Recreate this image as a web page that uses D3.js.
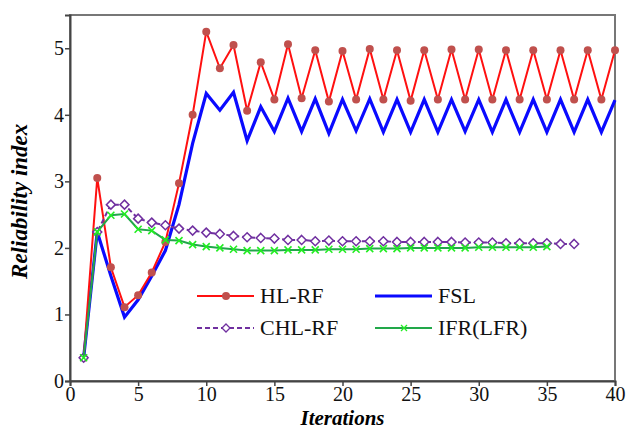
<!DOCTYPE html>
<html><head><meta charset="utf-8">
<script src="https://cdn.jsdelivr.net/npm/d3@7"></script>
<style>body{margin:0;background:#fff}svg{display:block}</style>
</head><body><svg id="c" width="627" height="432" font-family="Liberation Serif"><text id="xt" x="342" y="425" text-anchor="middle" font-family="Liberation Serif" font-size="21" font-weight="bold" font-style="italic">Iterations</text><text id="yt" transform="translate(27,201) rotate(-90)" text-anchor="middle" font-family="Liberation Serif" font-size="23" font-weight="bold" font-style="italic">Reliability index</text></svg>
<script>
const hlrf = [0.35,3.05,1.71,1.11,1.29,1.63,2.09,2.97,4.00,5.25,4.70,5.05,4.06,4.79,4.23,5.06,4.25,4.97,4.20,4.96,4.23,4.99,4.23,4.97,4.21,4.97,4.23,4.98,4.23,4.98,4.23,4.97,4.23,4.97,4.23,4.97,4.23,4.97,4.23,4.97];
const fsl = [0.35,2.24,1.58,0.96,1.22,1.58,1.96,2.65,3.57,4.32,4.07,4.34,3.61,4.12,3.75,4.25,3.75,4.24,3.72,4.23,3.76,4.24,3.74,4.23,3.74,4.23,3.74,4.23,3.75,4.23,3.74,4.23,3.74,4.23,3.74,4.23,3.74,4.23,3.74,4.22];
const chlrf = [0.35,2.24,2.65,2.65,2.44,2.38,2.34,2.29,2.26,2.23,2.21,2.18,2.16,2.15,2.14,2.12,2.12,2.10,2.11,2.10,2.10,2.10,2.10,2.09,2.09,2.09,2.09,2.09,2.08,2.08,2.08,2.07,2.07,2.07,2.07,2.06,2.06];
const ifr = [0.35,2.24,2.49,2.51,2.28,2.26,2.12,2.11,2.05,2.02,2.00,1.98,1.96,1.96,1.96,1.97,1.97,1.97,1.98,1.98,1.98,1.99,1.99,1.99,2.00,2.00,2.00,2.00,2.00,2.01,2.01,2.01,2.01,2.01,2.02];
const xTicks = [0,5,10,15,20,25,30,35,40];
const yTicks = [0,1,2,3,4,5];
const seriesNames = ["HL-RF","FSL","CHL-RF","IFR(LFR)"];

const FONT = "Liberation Serif";
const svg = d3.select("#c");
const m = {l:70, r:12, t:15, b:51};
const W = 627, H = 432;
const x = d3.scaleLinear().domain([0,40]).range([m.l, W-m.r]);
const y = d3.scaleLinear().domain([0,5.5]).range([H-m.b, m.t]);

// frame
svg.insert("rect",":first-child").attr("x",m.l).attr("y",m.t).attr("width",W-m.l-m.r).attr("height",H-m.t-m.b)
  .attr("fill","none").attr("stroke","#777").attr("stroke-width",2);

const xa = svg.append("g").attr("transform",`translate(0,${H-m.b})`)
  .call(d3.axisBottom(x).tickValues(xTicks).tickFormat(d3.format("d")).tickSize(5).tickPadding(1));
const ya = svg.append("g").attr("transform",`translate(${m.l},0)`)
  .call(d3.axisLeft(y).tickValues(yTicks).tickFormat(d3.format("d")).tickSize(5).tickPadding(1));
[xa,ya].forEach(a=>{
  a.attr("font-family",FONT).attr("font-size",20);
  a.select(".domain").attr("stroke","#444").attr("stroke-width",2);
  a.selectAll(".tick line").attr("stroke","#444").attr("stroke-width",1.5);
  a.selectAll("text").attr("fill","#111");
});

const line = d3.line().x((d,i)=>x(i+1)).y(d=>y(d));
function draw(data,color,w,dash){
  svg.append("path").datum(data).attr("d",line).attr("fill","none")
    .attr("stroke",color).attr("stroke-width",w).attr("stroke-linejoin","miter")
    .attr("stroke-dasharray",dash||null);
}
draw(fsl,"#0a0aff",3.2);
draw(hlrf,"#ff1010",2);
svg.append("g").selectAll("circle").data(hlrf).join("circle")
  .attr("cx",(d,i)=>x(i+1)).attr("cy",d=>y(d)).attr("r",4).attr("fill","#c0504d");
draw(chlrf,"#7030a0",2,"5,3");
svg.append("g").selectAll("path").data(chlrf).join("path")
  .attr("transform",(d,i)=>`translate(${x(i+1)},${y(d)})`)
  .attr("d","M0,-4.5L4.5,0L0,4.5L-4.5,0Z").attr("fill","#fff").attr("stroke","#7030a0").attr("stroke-width",1.5);
draw(ifr,"#22a84a",2);
svg.append("g").selectAll("path").data(ifr).join("path")
  .attr("transform",(d,i)=>`translate(${x(i+1)},${y(d)})`)
  .attr("d","M-3.5,-3.5L3.5,3.5M-3.5,3.5L3.5,-3.5").attr("stroke","#22ee22").attr("stroke-width",1.6);

// legend
const lg = svg.append("g");
function legItem(lx,ly,color,w,dash,marker,name){
  lg.append("line").attr("x1",lx).attr("x2",lx+57).attr("y1",ly).attr("y2",ly)
    .attr("stroke",color).attr("stroke-width",w).attr("stroke-dasharray",dash||null);
  const cx = lx+29;
  if(marker==="circle") lg.append("circle").attr("cx",cx).attr("cy",ly).attr("r",4).attr("fill","#c0504d");
  if(marker==="diamond") lg.append("path").attr("transform",`translate(${cx},${ly})`).attr("d","M0,-4L4,0L0,4L-4,0Z").attr("fill","#fff").attr("stroke",color).attr("stroke-width",1.3);
  if(marker==="x") lg.append("path").attr("transform",`translate(${cx},${ly})`).attr("d","M-3,-3L3,3M-3,3L3,-3").attr("stroke","#22ee22").attr("stroke-width",1.3);
  lg.append("text").attr("x",lx+63).attr("y",ly+7).attr("font-family",FONT).attr("font-size",22).attr("fill","#111").text(name);
}
legItem(197,296,"#ff1010",2,null,"circle",seriesNames[0]);
legItem(375,296,"#0a0aff",3,null,null,seriesNames[1]);
legItem(197,328,"#7030a0",2,"5,3","diamond",seriesNames[2]);
legItem(375,328,"#22a84a",2,null,"x",seriesNames[3]);

// position static axis titles from the scales
d3.select("#xt").attr("x",(x.range()[0]+x.range()[1])/2);
d3.select("#yt").attr("transform",`translate(27,${y(2.7)}) rotate(-90)`);
</script></body></html>
